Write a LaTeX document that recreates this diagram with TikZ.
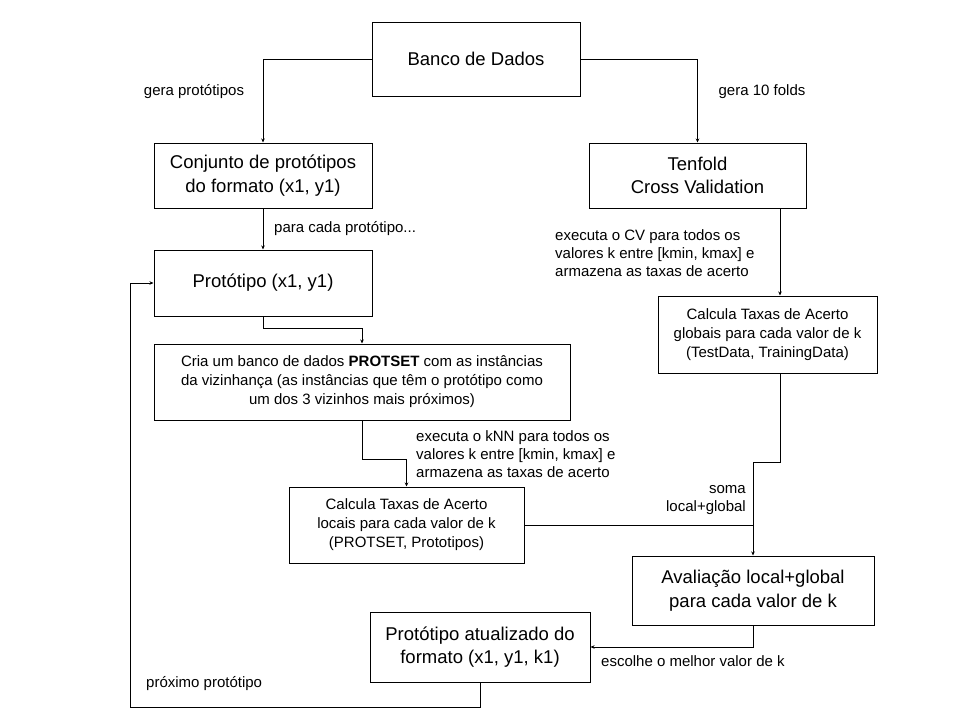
\documentclass[tikz,border=0pt]{standalone}
\usepackage{fontspec}
\setmainfont{Liberation Sans}
\usetikzlibrary{arrows.meta}
\begin{document}
\begin{tikzpicture}[x=1pt,y=-1pt,
 box/.style={draw, line width=1pt, align=center, inner sep=0pt},
 big/.style={font=\fontsize{18.5}{23.5}\selectfont},
 small/.style={font=\fontsize{15}{19}\selectfont},
 lbl/.style={font=\fontsize{15}{18}\selectfont, inner sep=0pt},
 conn/.style={line width=1pt, -{Stealth[length=4pt,width=3.5pt]}},
 plain/.style={line width=1pt}
]
\useasboundingbox (0,0) rectangle (960,720);
\node[box,big,minimum width=208pt,minimum height=74pt] (bd) at (476,59) {Banco de Dados};
\node[box,big,minimum width=218pt,minimum height=65pt] (conj) at (263,175.5) {Conjunto de protótipos\\do formato (x1, y1)};
\node[box,big,minimum width=217pt,minimum height=65pt] (ten) at (697.5,175.5) {Tenfold\\Cross Validation};
\node[box,big,minimum width=218pt,minimum height=66pt] (prot) at (263,283) {Protótipo (x1, y1)};
\node[box,small,minimum width=219pt,minimum height=77pt] (cg) at (767.5,334.5) {Calcula Taxas de Acerto\\globais para cada valor de k\\(TestData, TrainingData)};
\node[box,small,minimum width=416pt,minimum height=76pt] (cria) at (362,382) {Cria um banco de dados \textbf{PROTSET} com as instâncias\\da vizinhança (as instâncias que têm o protótipo como\\um dos 3 vizinhos mais próximos)};
\node[box,small,minimum width=235pt,minimum height=76pt] (loc) at (406.5,525) {Calcula Taxas de Acerto\\locais para cada valor de k\\(PROTSET, Prototipos)};
\node[box,big,minimum width=242pt,minimum height=69pt] (aval) at (753,590.5) {Avaliação local+global\\para cada valor de k};
\node[box,big,minimum width=220pt,minimum height=70pt] (atual) at (480,647) {Protótipo atualizado do\\formato (x1, y1, k1)};

\node[lbl] (l1) at (194,92) {gera protótipos};
\node[lbl] (l2) at (762,92) {gera 10 folds};
\node[lbl,anchor=west] (l3) at (274,229) {para cada protótipo...};
\node[lbl,anchor=west,align=left] (l4) at (555,253) {executa o CV para todos os\\valores k entre [kmin, kmax] e\\armazena as taxas de acerto};
\node[lbl,anchor=west,align=left] (l5) at (416,454) {executa o kNN para todos os\\valores k entre [kmin, kmax] e\\armazena as taxas de acerto};
\node[lbl,anchor=east,align=right] (l6) at (746,500) {soma\\local+global};
\node[lbl,anchor=west] (l7) at (601,661) {escolhe o melhor valor de k};
\node[lbl,anchor=west] (l8) at (146,684) {próximo protótipo};

\coordinate (cx) at (780,0);
\coordinate (lp) at (130,707);

\draw[conn] (bd.west) -| (conj.north);
\draw[conn] (bd.east) -| (ten.north);
\draw[conn] (conj.south) -- (prot.north);
\draw[conn] (ten.south -| cx) -- (cg.north -| cx);
\draw[conn] (prot.south) -- ++(0,12) -| (cria.north);
\draw[conn] (cria.south) -- ++(0,39) -| (loc.north);
\draw[conn] (cg.south -| cx) -- ++(0,89) -| (aval.north);
\draw[plain] (loc.east) -- (loc.east -| aval.north);
\draw[conn] (aval.south) |- (atual.east);
\draw[conn] (atual.south) |- (lp) |- (prot.west);
\end{tikzpicture}
\end{document}
